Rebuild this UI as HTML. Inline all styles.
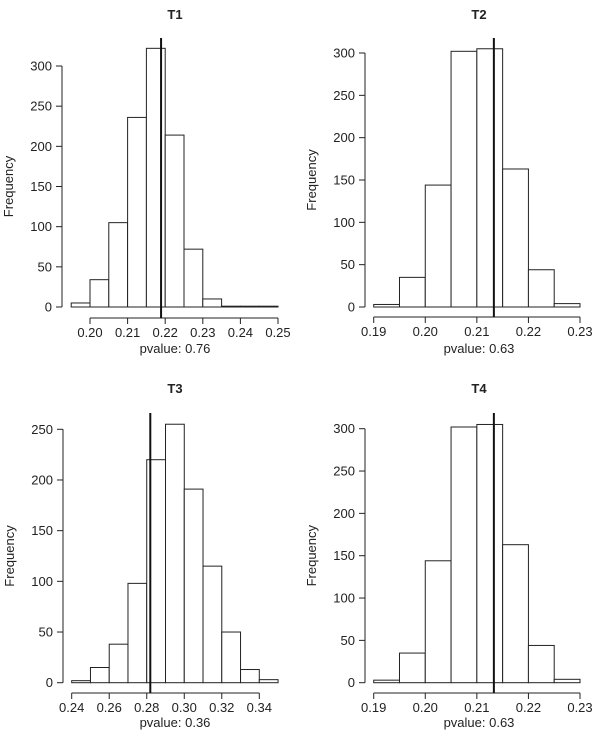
<!DOCTYPE html>
<html><head><meta charset="utf-8"><style>
html,body{margin:0;padding:0;background:#fff;}
svg{display:block;font-family:"Liberation Sans",Arial,sans-serif;}
</style></head><body>
<svg id="chart" width="601" height="745" viewBox="0 0 601 745" xmlns="http://www.w3.org/2000/svg"></svg>
<script>
// T1
const t1Breaks = [0.195,0.20,0.205,0.21,0.215,0.22,0.225,0.23,0.235,0.24,0.245,0.25];
const t1Counts = [5,34,105,236,322,214,72,10,1,1,1];
const t1XTicks = [0.20,0.21,0.22,0.23,0.24,0.25];
const t1YTicks = [0,50,100,150,200,250,300];
const t1Obs = 0.2189;
// T2
const t2Breaks = [0.19,0.195,0.20,0.205,0.21,0.215,0.22,0.225,0.23];
const t2Counts = [3,35,144,302,305,163,44,4];
const t2XTicks = [0.19,0.20,0.21,0.22,0.23];
const t2YTicks = [0,50,100,150,200,250,300];
const t2Obs = 0.2133;
// T3
const t3Breaks = [0.24,0.25,0.26,0.27,0.28,0.29,0.30,0.31,0.32,0.33,0.34,0.35];
const t3Counts = [2,15,38,98,220,255,191,115,50,13,3];
const t3XTicks = [0.24,0.26,0.28,0.30,0.32,0.34];
const t3YTicks = [0,50,100,150,200,250];
const t3Obs = 0.2819;
// T4
const t4Breaks = [0.19,0.195,0.20,0.205,0.21,0.215,0.22,0.225,0.23];
const t4Counts = [3,35,144,302,305,163,44,4];
const t4XTicks = [0.19,0.20,0.21,0.22,0.23];
const t4YTicks = [0,50,100,150,200,250,300];
const t4Obs = 0.2133;
const titles = ["T1","T2","T3","T4"];
const pvalues = ["0.76","0.63","0.36","0.63"];

const NS="http://www.w3.org/2000/svg";
const svg=document.getElementById('chart');
function mk(tag,attrs,parent){const e=document.createElementNS(NS,tag);for(const k in attrs)e.setAttribute(k,attrs[k]);(parent||svg).appendChild(e);return e;}

const panels=[
 {id:'t1',breaks:t1Breaks,counts:t1Counts,xt:t1XTicks,yt:t1YTicks,obs:t1Obs,dec:2,
  ax:62,xv0:0.20,xp0:90,xv1:0.25,xp1:278,y0:307,yv1:300,yp1:66,axY:318,lineTop:38,title:175,titleY:14,pY:348},
 {id:'t2',breaks:t2Breaks,counts:t2Counts,xt:t2XTicks,yt:t2YTicks,obs:t2Obs,dec:2,
  ax:365,xv0:0.19,xp0:373.7,xv1:0.23,xp1:580,y0:307,yv1:300,yp1:53,axY:317,lineTop:38,title:479,titleY:14,pY:348},
 {id:'t3',breaks:t3Breaks,counts:t3Counts,xt:t3XTicks,yt:t3YTicks,obs:t3Obs,dec:2,
  ax:63,xv0:0.24,xp0:71.7,xv1:0.34,xp1:259.3,y0:682.7,yv1:250,yp1:429.3,axY:693,lineTop:413,title:175,titleY:388,pY:722},
 {id:'t4',breaks:t4Breaks,counts:t4Counts,xt:t4XTicks,yt:t4YTicks,obs:t4Obs,dec:2,
  ax:365,xv0:0.19,xp0:373.7,xv1:0.23,xp1:580,y0:682.7,yv1:300,yp1:428.7,axY:693,lineTop:413,title:479,titleY:388,pY:722}
];

panels.forEach((p,i)=>{
  const g=mk('g',{});
  
  
  const xs=v=>p.xp0+(v-p.xv0)*(p.xp1-p.xp0)/(p.xv1-p.xv0);
  const ys=v=>p.y0-v*(p.y0-p.yp1)/p.yv1;
  // bars
  p.counts.forEach((c,j)=>{
    const x0=xs(p.breaks[j]),x1=xs(p.breaks[j+1]);
    const r=mk('rect',{x:x0,y:ys(c),width:x1-x0,height:Math.max(ys(0)-ys(c),0.5),fill:'#fff',stroke:'#222','stroke-width':1},g);
    
    
  });
  // y axis
  const ya=mk('line',{x1:p.ax,x2:p.ax,y1:ys(p.yt[0]),y2:ys(p.yt[p.yt.length-1]),stroke:'#222'},g);
  
  
  p.yt.forEach(v=>{
    mk('line',{x1:p.ax-6,x2:p.ax,y1:ys(v),y2:ys(v),stroke:'#222'},g);
    const t=mk('text',{x:p.ax-10,y:ys(v)+4.5,'text-anchor':'end','font-size':13,fill:'#222'},g);
    t.textContent=v;
    
    
  });
  // x axis
  const xa=mk('line',{x1:xs(p.xt[0]),x2:xs(p.xt[p.xt.length-1]),y1:p.axY,y2:p.axY,stroke:'#222'},g);
  
  
  p.xt.forEach(v=>{
    mk('line',{x1:xs(v),x2:xs(v),y1:p.axY,y2:p.axY+6,stroke:'#222'},g);
    const t=mk('text',{x:xs(v),y:p.axY+19,'text-anchor':'middle','font-size':13,fill:'#222'},g);
    t.textContent=v.toFixed(p.dec);
    
    
  });
  // observed line
  const ol=mk('line',{x1:xs(p.obs),x2:xs(p.obs),y1:p.lineTop,y2:p.axY,stroke:'#111','stroke-width':2},g);
  
  
  // title
  const tt=mk('text',{x:p.title,y:p.titleY+5,'text-anchor':'middle','font-size':13,'font-weight':'bold',fill:'#222'},g);
  tt.textContent=titles[i];
  
  
  // y label
  const yl=mk('text',{x:0,y:0,'text-anchor':'middle','font-size':13,fill:'#222',transform:'translate('+(p.ax-49)+','+((ys(0)+ys(p.yt[p.yt.length-1]))/2)+') rotate(-90)'},g);
  yl.textContent='Frequency';
  
  
  // pvalue
  const pv=mk('text',{x:p.title,y:p.pY+5,'text-anchor':'middle','font-size':13,fill:'#222'},g);
  pv.textContent='pvalue: '+pvalues[i];
  
  
});
</script>
</body></html>
